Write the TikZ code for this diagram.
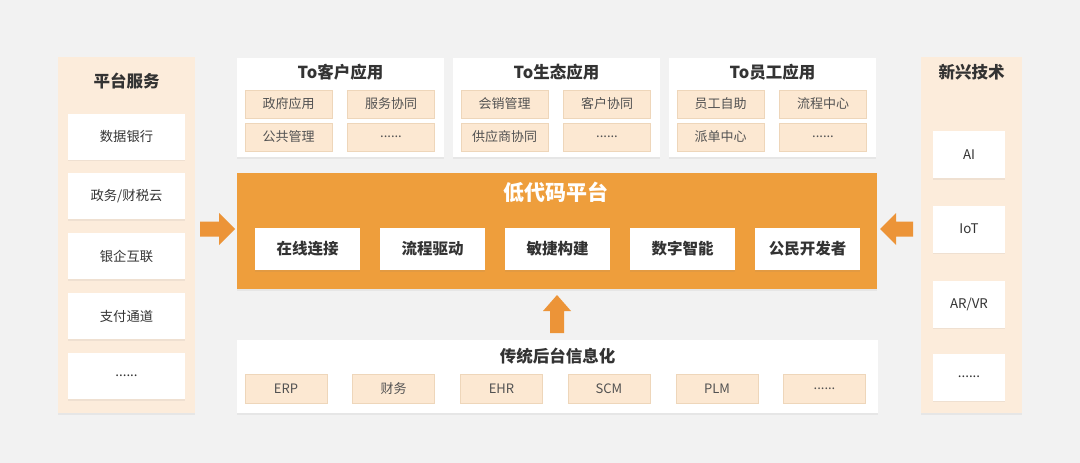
\documentclass[tikz,border=0pt]{standalone}
\usepackage{fontspec}
\setmainfont{Noto Sans CJK SC}
\usetikzlibrary{shadows}
\definecolor{bgc}{RGB}{242,242,242}
\definecolor{peach}{RGB}{252,236,219}
\definecolor{cellc}{RGB}{252,232,210}
\definecolor{celld}{RGB}{238,214,186}
\definecolor{orng}{RGB}{238,158,60}
\definecolor{arrc}{RGB}{236,148,56}
\definecolor{txt}{RGB}{51,51,51}
\begin{document}
\begin{tikzpicture}[x=1pt,y=-1pt,
  shad/.style={drop shadow={opacity=0.10,shadow xshift=0pt,shadow yshift=-1.5pt}},
  panel/.style={fill=peach,draw=none,shad,inner sep=0,minimum height=356pt},
  sidebox/.style={fill=white,draw=none,shad,inner sep=0,text=txt,font=\fontsize{13.3}{15}\selectfont},
  topbox/.style={fill=white,draw=none,shad,inner sep=0,minimum width=207pt,minimum height=99pt},
  cell/.style={fill=cellc,draw=celld,line width=0.6pt,inner sep=0,minimum width=87pt,minimum height=28pt,text=txt!85,font=\fontsize{13}{15}\selectfont},
  bcell/.style={cell,minimum width=82pt,minimum height=29pt},
  ttl/.style={text=txt,font=\bfseries\fontsize{16.5}{18}\selectfont,inner sep=0},
  corebox/.style={fill=white,draw=none,shad,inner sep=0,minimum width=105pt,minimum height=42pt,text=txt,font=\bfseries\fontsize{15.5}{17}\selectfont},
  blockarrow/.style={fill=arrc,draw=none}]
\useasboundingbox (0,0) rectangle (1080,463);
\fill[bgc] (0,0) rectangle (1080,463);

% left panel
\node[panel,minimum width=137pt] (lp) at (126.5,235) {};
\node[ttl] (lpt) at (126.5,81) {平台服务};
\node[sidebox,minimum width=117pt,minimum height=46pt] (l1) at (126.5,136.5) {数据银行};
\node[sidebox,minimum width=117pt,minimum height=46pt] (l2) at (126.5,196) {政务/财税云};
\node[sidebox,minimum width=117pt,minimum height=46pt] (l3) at (126.5,256) {银企互联};
\node[sidebox,minimum width=117pt,minimum height=46pt] (l4) at (126.5,316) {支付通道};
\node[sidebox,minimum width=117pt,minimum height=46pt] (l5) at (126.5,376) {......};

% right panel
\node[panel,minimum width=101pt] (rp) at (971,235) {};
\node[ttl] (rpt) at (971.5,72) {新兴技术};
\node[sidebox,minimum width=72pt,minimum height=47pt] (r1) at (969,154.5) {AI};
\node[sidebox,minimum width=72pt,minimum height=47pt] (r2) at (969,229) {IoT};
\node[sidebox,minimum width=72pt,minimum height=47pt] (r3) at (969,304) {AR/VR};
\node[sidebox,minimum width=72pt,minimum height=47pt] (r4) at (969,377) {......};

% top boxes
\node[topbox] (t1) at (340.5,107.5) {};
\node[ttl] (t1t) at (340.5,72) {To客户应用};
\node[cell] (c11) at (288.5,104) {政府应用};
\node[cell] (c12) at (391,104) {服务协同};
\node[cell] (c13) at (288.5,137) {公共管理};
\node[cell] (c14) at (391,137) {......};

\node[topbox] (t2) at (556.5,107.5) {};
\node[ttl] (t2t) at (556.5,72) {To生态应用};
\node[cell] (c21) at (504.5,104) {会销管理};
\node[cell] (c22) at (607,104) {客户协同};
\node[cell] (c23) at (504.5,137) {供应商协同};
\node[cell] (c24) at (607,137) {......};

\node[topbox] (t3) at (772.5,107.5) {};
\node[ttl] (t3t) at (772.5,72) {To员工应用};
\node[cell] (c31) at (720.5,104) {员工自助};
\node[cell] (c32) at (823,104) {流程中心};
\node[cell] (c33) at (720.5,137) {派单中心};
\node[cell] (c34) at (823,137) {......};

% core
\node[fill=orng,draw=none,shad,inner sep=0,minimum width=640pt,minimum height=116pt] (core) at (557,231) {};
\node[text=white,font=\bfseries\fontsize{21}{23}\selectfont,inner sep=0] (coret) at (556,192) {低代码平台};
\node[corebox] (k1) at (307.5,249) {在线连接};
\node[corebox] (k2) at (432.5,249) {流程驱动};
\node[corebox] (k3) at (557.5,249) {敏捷构建};
\node[corebox] (k4) at (682.5,249) {数字智能};
\node[corebox] (k5) at (807.5,249) {公民开发者};

% bottom
\node[fill=white,draw=none,shad,inner sep=0,minimum width=641pt,minimum height=73pt] (bt) at (557.5,376.5) {};
\node[ttl] (btt) at (557.5,356) {传统后台信息化};
\node[bcell] (b1) at (286,388.5) {ERP};
\node[bcell] (b2) at (393.5,388.5) {财务};
\node[bcell] (b3) at (501.5,388.5) {EHR};
\node[bcell] (b4) at (609,388.5) {SCM};
\node[bcell] (b5) at (717,388.5) {PLM};
\node[bcell] (b6) at (824.5,388.5) {......};

% block arrows
\fill[blockarrow] (200,221.5) -- (219,221.5) -- (219,213) -- (235,229) -- (219,245) -- (219,236.5) -- (200,236.5) -- cycle;
\fill[blockarrow] (913,221.5) -- (896,221.5) -- (896,213) -- (880,229) -- (896,245) -- (896,236.5) -- (913,236.5) -- cycle;
\fill[blockarrow] (550,333) -- (550,311) -- (543,311) -- (557,295) -- (571,311) -- (564,311) -- (564,333) -- cycle;
\end{tikzpicture}
\end{document}
